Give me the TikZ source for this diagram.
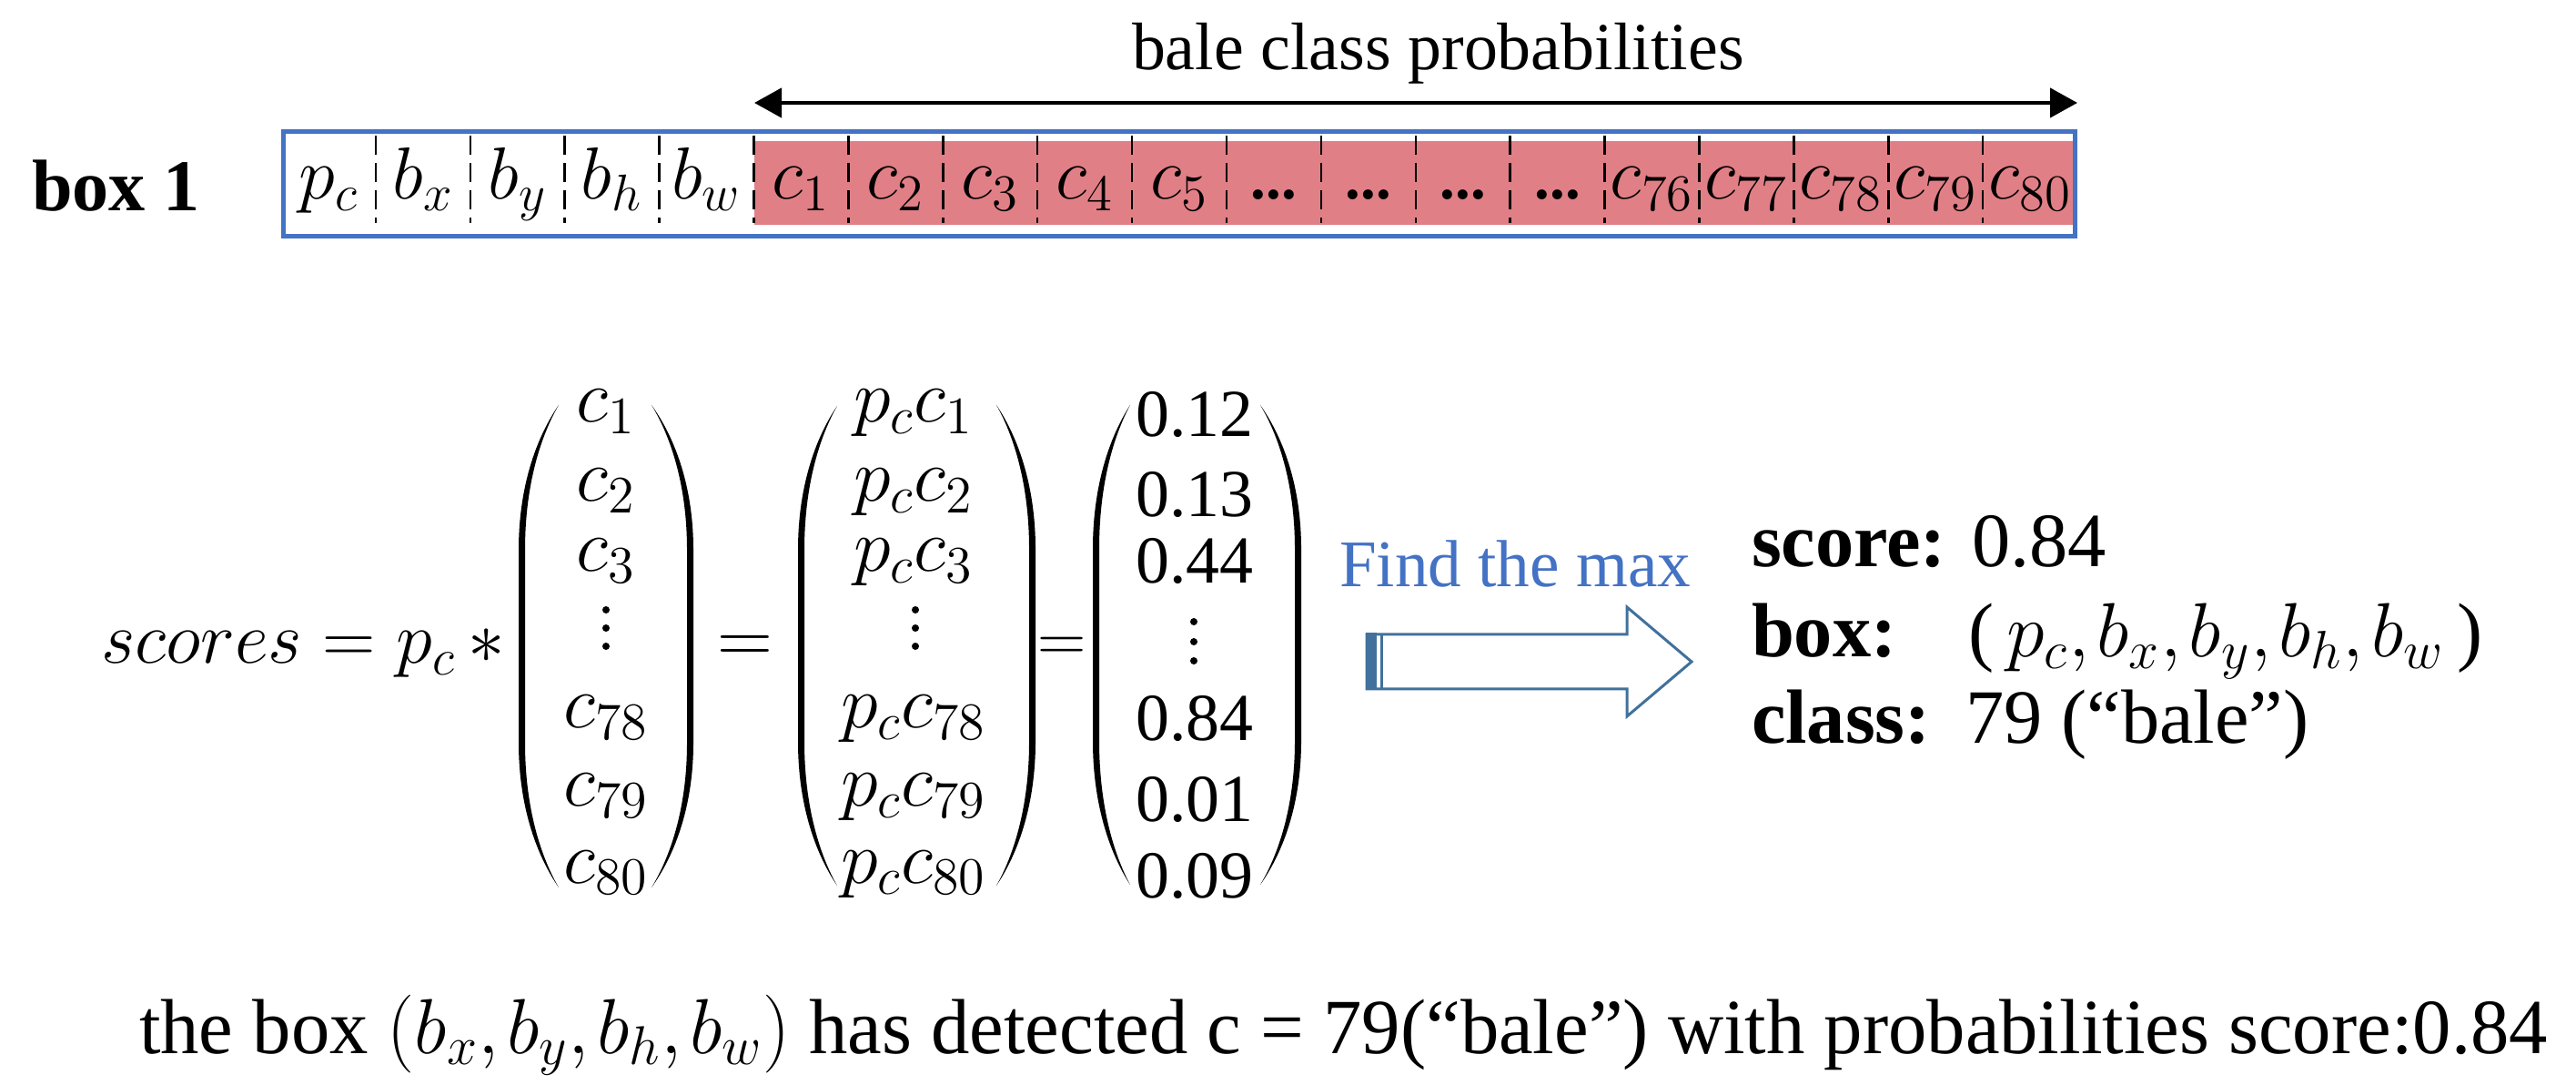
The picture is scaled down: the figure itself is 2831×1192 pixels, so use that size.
\RequirePackage{fix-cm}
\documentclass[tikz,border=0pt]{standalone}
\usepackage{graphicx}
\usepackage{fontspec}
\setmainfont{Liberation Serif}
\usetikzlibrary{arrows.meta}
\definecolor{boxblue}{HTML}{4472C4}
\definecolor{arrowblue}{HTML}{41719C}
\definecolor{cellred}{RGB}{225,127,134}
\newcommand\celldots{\mbox{\fontsize{19}{20}\selectfont\bfseries ...}}
\newcommand\tcomma{{,}\mkern1.8mu}
% #1 outer x at middle, #2 tip x, #3 top y, #4 bottom y, #5 signed thickness
\newcommand\bigparen[5]{%
  \pgfmathsetmacro\pH{#4-#3}%
  \pgfmathsetmacro\pI{#1+#5}%
  \pgfmathsetmacro\pXa{#1+0.5*(#2-#1)}%
  \pgfmathsetmacro\pXb{\pI+0.5*(#2-\pI)}%
  \pgfmathsetmacro\pYa{#3+0.06*\pH}%
  \pgfmathsetmacro\pYb{#3+0.16*\pH}%
  \pgfmathsetmacro\pYc{#3+0.30*\pH}%
  \pgfmathsetmacro\pYd{#4-0.30*\pH}%
  \pgfmathsetmacro\pYe{#4-0.16*\pH}%
  \pgfmathsetmacro\pYf{#4-0.06*\pH}%
  \fill (#2,#3) .. controls (\pXa,\pYa) and (#1,\pYb) .. (#1,\pYc) -- (#1,\pYd)
    .. controls (#1,\pYe) and (\pXa,\pYf) .. (#2,#4)
    .. controls (\pXb,\pYf) and (\pI,\pYe) .. (\pI,\pYd) -- (\pI,\pYc)
    .. controls (\pI,\pYb) and (\pXb,\pYa) .. cycle;
}
\begin{document}
\begin{tikzpicture}[x=0.01cm,y=-0.01cm,
  txt/.style={inner sep=0pt,outer sep=0pt},
  celltxt/.style={txt,anchor=base,font=\fontsize{23}{27}\selectfont},
  mattxt/.style={txt,anchor=base,font=\fontsize{23.5}{28}\selectfont},
  numtxt/.style={txt,anchor=base,font=\fontsize{21}{25}\selectfont},
  bigtxt/.style={txt,anchor=base west,font=\fontsize{24}{28}\selectfont},
  divider/.style={line width=0.25mm,dash pattern=on 2.1mm off 0.9mm},
  dimarrow/.style={line width=0.45mm,{Triangle[length=3mm,width=3.2mm]}-{Triangle[length=3mm,width=3.2mm]}}]
\useasboundingbox (0,0) rectangle (2831,1192);

% ---------- top row ----------
\node[txt,anchor=base west,font=\fontsize{21}{25}\selectfont] (lab) at (1244,77) {bale class probabilities};
\coordinate (al) at (829,113);
\coordinate (ar) at (2283,113);
\draw[dimarrow] (al) -- (ar);

\node[txt,anchor=base west,font=\fontsize{22.8}{27}\selectfont\bfseries] (box1) at (35,232) {box 1};

\fill[cellred] (829,155) rectangle (2279,247);
\draw[boxblue,line width=0.5mm] (311.5,144.5) rectangle (2280.5,259.5);
\foreach \k in {1,...,18}
  \draw[divider] ({309+\k*103.9},149) -- ({309+\k*103.9},245);
\foreach \t [count=\i from 0] in {p_c,b_x,b_y,b_h,b_w,c_1,c_2,c_3,c_4,c_5,\celldots,\celldots,\celldots,\celldots,c_{76},c_{77},c_{78},c_{79},c_{80}}
  \node[celltxt] (cell\i) at ({309+(\i+0.5)*103.9},219) {$\t$};

% ---------- equation ----------
\node[txt,anchor=base west,font=\fontsize{23}{27}\selectfont] (eq) at (111,729) {$scores = p_c \,*$};

\bigparen{570}{614}{445}{975}{7}
\bigparen{762}{716}{445}{975}{-7}
\bigparen{877}{920}{446}{973}{7}
\bigparen{1138}{1095}{445}{973}{-7}
\bigparen{1201}{1242}{445}{972}{7}
\bigparen{1430}{1385}{445}{972}{-7}

\node[mattxt] (a1) at (666,464) {$c_1$};
\node[mattxt] (a2) at (666,551) {$c_2$};
\node[mattxt] (a3) at (666,628) {$c_3$};
\node[mattxt] (a78) at (666,800) {$c_{78}$};
\node[mattxt] (a79) at (666,886) {$c_{79}$};
\node[mattxt] (a80) at (666,970) {$c_{80}$};
\foreach \y in {670,690,710} \fill (666,\y) circle (4);

\node[mattxt,font=\fontsize{24}{28}\selectfont] (eq2) at (819,729) {$=$};

\node[mattxt] (b1) at (1004,464) {$p_c c_1$};
\node[mattxt] (b2) at (1004,551) {$p_c c_2$};
\node[mattxt] (b3) at (1004,628) {$p_c c_3$};
\node[mattxt] (b78) at (1004,800) {$p_c c_{78}$};
\node[mattxt] (b79) at (1004,886) {$p_c c_{79}$};
\node[mattxt] (b80) at (1004,970) {$p_c c_{80}$};
\foreach \y in {670,690,710} \fill (1006,\y) circle (4);

\node[mattxt,font=\fontsize{21}{25}\selectfont] (eq3) at (1167,727) {$=$};

\node[numtxt] (n1) at (1313,480) {0.12};
\node[numtxt] (n2) at (1313,568) {0.13};
\node[numtxt] (n3) at (1313,641) {0.44};
\node[numtxt] (n78) at (1313,814) {0.84};
\node[numtxt] (n79) at (1313,902) {0.01};
\node[numtxt] (n80) at (1313,986) {0.09};
\foreach \y in {683,705,726} \fill (1312,\y) circle (4);

% ---------- find the max arrow ----------
\node[txt,anchor=base west,text=boxblue,font=\fontsize{20.8}{25}\selectfont] (find) at (1472,645) {Find the max};
\draw[arrowblue,fill=white,line width=0.3mm,line join=miter]
  (1502,697) -- (1788,697) -- (1788,667) -- (1859,727) -- (1788,787) -- (1788,757) -- (1502,757) -- cycle;
\fill[arrowblue] (1501,695.5) rectangle (1513,758.5);
\draw[arrowblue,line width=0.3mm] (1518,697) -- (1518,757);

% ---------- result ----------
\node[bigtxt] (score) at (1925,623) {\textbf{score:} 0.84};
\node[bigtxt] (boxl) at (1925,722) {\textbf{box:}};
\node[bigtxt] (tuple) at (2163,722) {(\,$p_c\tcomma b_x\tcomma b_y\tcomma b_h\tcomma b_w$\,)};
\node[bigtxt] (classl) at (1925,817) {\textbf{class:}};
\node[bigtxt] (classv) at (2160,817) {79 (“bale”)};

% ---------- bottom sentence ----------
\node[txt,anchor=base west,font=\fontsize{24.4}{29}\selectfont] (bottom) at (153,1157)
  {\resizebox{26.45cm}{\height}{the box $(b_x\tcomma b_y\tcomma b_h\tcomma b_w)$ has detected c = 79(“bale”) with probabilities score:0.84}};
\end{tikzpicture}
\end{document}
